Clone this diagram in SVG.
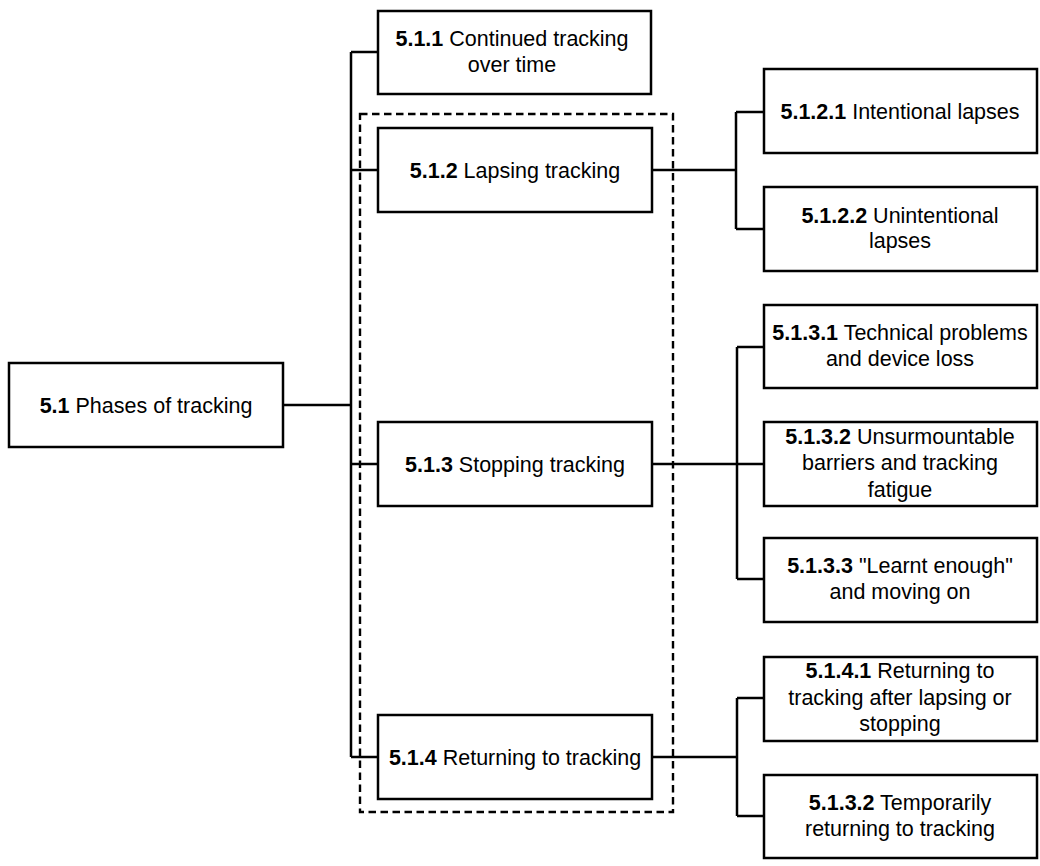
<svg xmlns="http://www.w3.org/2000/svg" width="1040" height="866" viewBox="0 0 1040 866">
  <style>
    .box { fill: #ffffff; stroke: #000000; stroke-width: 2.5; }
    .conn { fill: none; stroke: #000000; stroke-width: 2.5; }
    .group { fill: none; stroke: #000000; stroke-width: 2.4; stroke-dasharray: 7.5 4.5; }
    text { font-family: "Liberation Sans", Arial, sans-serif; font-size: 21.5px; fill: #000000; text-anchor: middle; }
    .b { font-weight: bold; }
  </style>
  <rect width="1040" height="866" fill="#ffffff"/>

  <!-- dashed grouping frame around 5.1.2 - 5.1.4 -->
  <rect class="group" x="360" y="114" width="313" height="698"/>

  <g id="connectors">
    <!-- root to trunk -->
    <path class="conn" d="M283,405 H351"/>
    <path class="conn" d="M351,52 V757"/>
    <path class="conn" d="M351,52 H378 M351,170 H378 M351,464 H378 M351,757 H378"/>
    <!-- 5.1.2 children -->
    <path class="conn" d="M652,170 H736 M736,112 V229 M736,112 H764 M736,229 H764"/>
    <!-- 5.1.3 children -->
    <path class="conn" d="M652,464 H764 M737,347 V579 M737,347 H764 M737,579 H764"/>
    <!-- 5.1.4 children -->
    <path class="conn" d="M652,757 H737 M737,698 V816 M737,698 H764 M737,816 H764"/>
  </g>

  <g id="n5_1">
    <rect class="box" x="9" y="363" width="274" height="84"/>
    <text x="146" y="412.5"><tspan class="b">5.1</tspan> Phases of tracking</text>
  </g>

  <g id="n5_1_1">
    <rect class="box" x="378" y="11" width="273" height="83"/>
    <text x="512" y="46"><tspan class="b">5.1.1</tspan> Continued tracking</text>
    <text x="512" y="72">over time</text>
  </g>

  <g id="n5_1_2">
    <rect class="box" x="378" y="128" width="274" height="84"/>
    <text x="515" y="177.5"><tspan class="b">5.1.2</tspan> Lapsing tracking</text>
  </g>

  <g id="n5_1_3">
    <rect class="box" x="378" y="422" width="274" height="84"/>
    <text x="515" y="471.5"><tspan class="b">5.1.3</tspan> Stopping tracking</text>
  </g>

  <g id="n5_1_4">
    <rect class="box" x="378" y="715" width="274" height="84"/>
    <text x="515" y="764.5"><tspan class="b">5.1.4</tspan> Returning to tracking</text>
  </g>

  <g id="n5_1_2_1">
    <rect class="box" x="764" y="69" width="273" height="84"/>
    <text x="900" y="119"><tspan class="b">5.1.2.1</tspan> Intentional lapses</text>
  </g>

  <g id="n5_1_2_2">
    <rect class="box" x="764" y="187" width="273" height="84"/>
    <text x="900" y="222.5"><tspan class="b">5.1.2.2</tspan> Unintentional</text>
    <text x="900" y="248">lapses</text>
  </g>

  <g id="n5_1_3_1">
    <rect class="box" x="764" y="305" width="273" height="83"/>
    <text x="900" y="339.5"><tspan class="b">5.1.3.1</tspan> Technical problems</text>
    <text x="900" y="365.5">and device loss</text>
  </g>

  <g id="n5_1_3_2">
    <rect class="box" x="764" y="422" width="273" height="84"/>
    <text x="900" y="443.5"><tspan class="b">5.1.3.2</tspan> Unsurmountable</text>
    <text x="900" y="470">barriers and tracking</text>
    <text x="900" y="496.5">fatigue</text>
  </g>

  <g id="n5_1_3_3">
    <rect class="box" x="764" y="538" width="273" height="84"/>
    <text x="900" y="573"><tspan class="b">5.1.3.3</tspan> "Learnt enough"</text>
    <text x="900" y="599">and moving on</text>
  </g>

  <g id="n5_1_4_1">
    <rect class="box" x="764" y="657" width="273" height="84"/>
    <text x="900" y="678"><tspan class="b">5.1.4.1</tspan> Returning to</text>
    <text x="900" y="704.5">tracking after lapsing or</text>
    <text x="900" y="731">stopping</text>
  </g>

  <g id="n5_1_3_2b">
    <rect class="box" x="764" y="775" width="273" height="83"/>
    <text x="900" y="810"><tspan class="b">5.1.3.2</tspan> Temporarily</text>
    <text x="900" y="836">returning to tracking</text>
  </g>
</svg>
